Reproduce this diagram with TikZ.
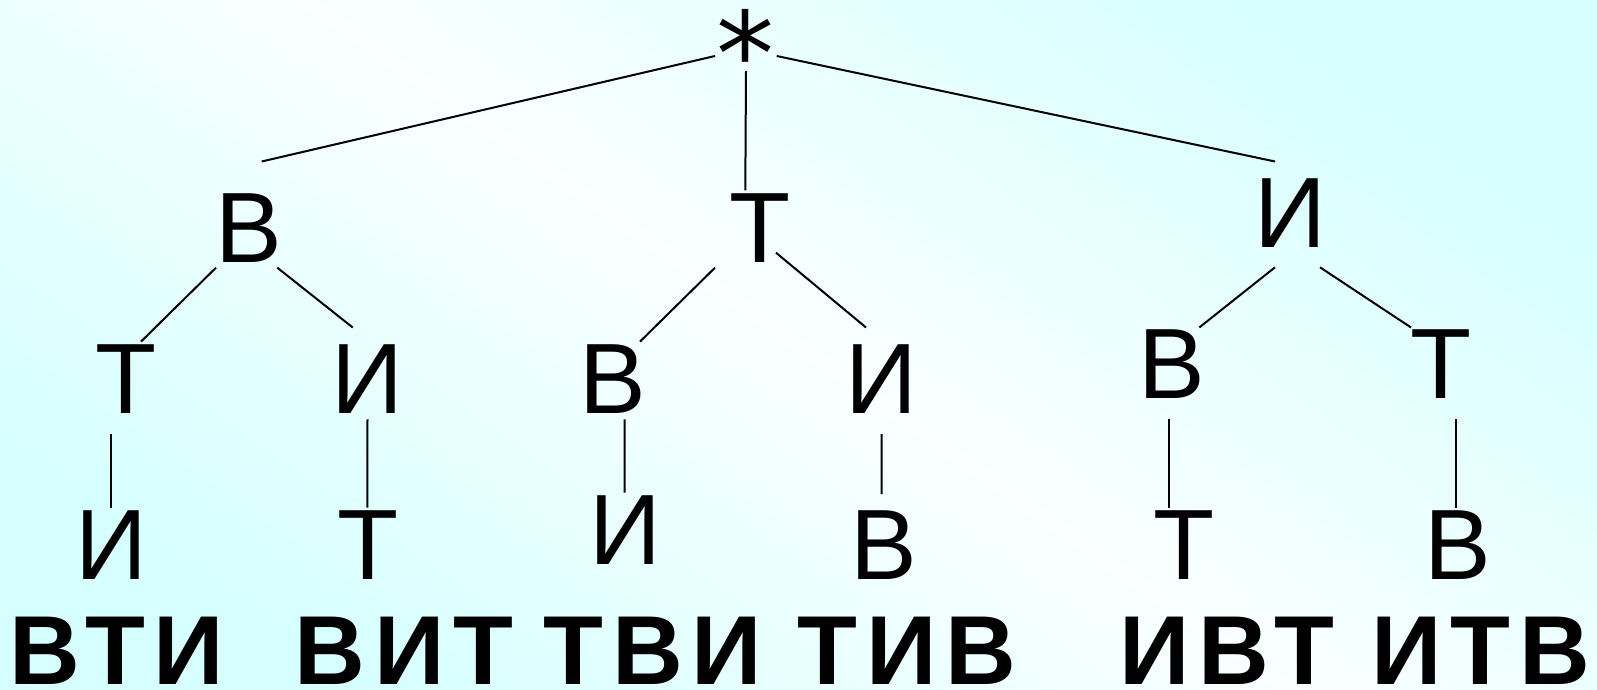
\documentclass[tikz,border=0pt]{standalone}
\usepackage{fontspec}
\setmainfont{Liberation Sans}
\newfontfamily\starfont{DejaVu Sans}
\definecolor{bgcyan}{RGB}{214,255,255}
\definecolor{bglight}{RGB}{250,255,255}
\tikzset{
  letter/.style={font=\fontsize{50}{60}\selectfont, inner sep=0pt,
                 text height=35.8pt, text depth=0pt, anchor=south},
  word/.style={font=\bfseries\fontsize{49}{58}\selectfont\addfontfeature{LetterSpace=9},
               inner sep=0pt, text depth=0pt, anchor=base},
  branch/.style={line width=1pt}
}

\begin{document}
\begin{tikzpicture}[x=0.5pt, y=-0.5pt]
  % background
  \shade[top color=bgcyan, bottom color=bgcyan, middle color=bglight, shading angle=-35]
    (0,0) rectangle (1597,690);
  \useasboundingbox (0,0) rectangle (1597,690);

  % root
  \node[letter, font=\starfont\fontsize{58}{66}\selectfont, text height=0pt] (root) at (745,97) {*};

  % first level
  \node[letter] (b1) at (249,263.3) {В};
  \node[letter] (t1) at (760,262.7) {Т};
  \node[letter] (i1) at (1290,247.7) {И};

  % second level
  \node[letter] (t2a) at (126,414) {Т};
  \node[letter] (i2b) at (367.5,414) {И};
  \node[letter] (b2c) at (612.5,414) {В};
  \node[letter] (i2d) at (881,414) {И};
  \node[letter] (b2e) at (1172,399.3) {В};
  \node[letter] (t2f) at (1441,399.3) {Т};

  % third level
  \node[letter] (i3a) at (111,580) {И};
  \node[letter] (t3b) at (368,580) {Т};
  \node[letter] (i3c) at (625,565) {И};
  \node[letter] (b3d) at (884,580) {В};
  \node[letter] (t3e) at (1184,580) {Т};
  \node[letter] (b3f) at (1458,580) {В};

  % words
  \node[word] (w1) at (117,684.5) {ВТИ};
  \node[word] (w2) at (404,684.5) {ВИТ};
  \node[word] (w3) at (653,684.5) {ТВИ};
  \node[word] (w4) at (907,684.5) {ТИВ};
  \node[word] (w5) at (1227,684.5) {ИВТ};
  \node[word] (w6) at (1481,684.5) {ИТВ};

  % branches
  \draw[branch] ([shift={(-30,-41)}]root.south) -- ([shift={(12.7,-29.4)}]b1.north);
  \draw[branch] ([shift={(1,-26)}]root.south) -- ([shift={(-14.7,0)}]t1.north);
  \draw[branch] ([shift={(31.7,-41)}]root.south) -- ([shift={(-15,-13.8)}]i1.north);

  \draw[branch] ([shift={(-33,4.4)}]b1.south) -- ([shift={(15,0)}]t2a.north);
  \draw[branch] ([shift={(28.3,4.4)}]b1.south) -- ([shift={(-14.8,-14.1)}]i2b.north);
  \draw[branch] ([shift={(-45,5)}]t1.south) -- ([shift={(27.5,0)}]b2c.north);
  \draw[branch] ([shift={(16,-10)}]t1.south) -- ([shift={(-15,-14.1)}]i2d.north);
  \draw[branch] ([shift={(-15,19.6)}]i1.south) -- ([shift={(27.3,0.6)}]b2e.north);
  \draw[branch] ([shift={(30,19.6)}]i1.south) -- ([shift={(-30,0.6)}]t2f.north);

  \draw[branch] ([shift={(-15.3,20)}]t2a.south) -- ([shift={(-0.3,0)}]i3a.north);
  \draw[branch] ([shift={(0,5.3)}]i2b.south) -- ([shift={(-0.7,0)}]t3b.north);
  \draw[branch] ([shift={(12.2,5.3)}]b2c.south) -- ([shift={(-0.3,0)}]i3c.north);
  \draw[branch] ([shift={(0.7,20)}]i2d.south) -- ([shift={(-2.3,-13.4)}]b3d.north);
  \draw[branch] ([shift={(-2.7,20)}]b2e.south) -- ([shift={(-14.7,0)}]t3e.north);
  \draw[branch] ([shift={(15,20)}]t2f.south) -- ([shift={(-2,0)}]b3f.north);
\end{tikzpicture}
\end{document}
